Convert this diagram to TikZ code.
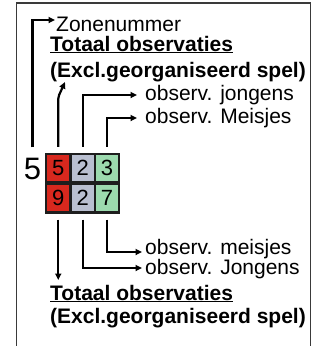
\documentclass[tikz,border=0pt]{standalone}
\usepackage{fontspec}
\setmainfont{Liberation Sans}
\usetikzlibrary{arrows.meta,calc}
\definecolor{cred}{HTML}{D8281E}
\definecolor{cgray}{HTML}{B9BFD0}
\definecolor{cgreen}{HTML}{9CDAAE}
\definecolor{framec}{HTML}{3A3A3A}
\definecolor{cellline}{HTML}{1E1E1E}
\begin{document}
\begin{tikzpicture}[x=1pt,y=-1pt,
  cell/.style={draw=cellline, line width=2.2pt, minimum width=24.5pt, minimum height=28.5pt,
    inner sep=0pt, font=\fontsize{22}{22}\selectfont},
  lbl/.style={anchor=base west, inner sep=0pt, font=\fontsize{21}{24}\selectfont},
  blbl/.style={lbl, font=\fontsize{21}{24}\selectfont\bfseries},
  arr/.style={line width=2.2pt, -{Triangle[length=6.5pt,width=6pt]}}]
\useasboundingbox (0,0) rectangle (332,346);
\draw[framec, line width=1.2pt] (16.5,346) -- (16.5,3) -- (310.5,3) -- (310.5,346);
% cells
\node[cell, fill=cred]   (c11) at (58.25,168.25) {5};
\node[cell, fill=cgray]  (c12) at (82.75,168.25) {2};
\node[cell, fill=cgreen] (c13) at (107,168.25) {3};
\node[cell, fill=cred]   (c21) at (58.25,198.25) {9};
\node[cell, fill=cgray]  (c22) at (82.75,198.25) {2};
\node[cell, fill=cgreen] (c23) at (107,198.25) {7};
\node[anchor=base, inner sep=0pt, font=\fontsize{31}{31}\selectfont] (big5) at (32.5,179) {5};
% labels
\node[lbl] (zon) at (56,31) {Zonenummer};
\node[blbl] (tot1) at (50,51) {\underline{Totaal observaties}};
\node[blbl] (exc1) at (50,77) {(Excl.georganiseerd spel)};
\node[lbl] (jon1) at (145,100) {observ. jongens};
\node[lbl] (mei1) at (145,123) {observ. Meisjes};
\node[lbl] (mei2) at (145,254) {observ. meisjes};
\node[lbl] (jon2) at (145,274) {observ. Jongens};
\node[blbl] (tot2) at (50,300) {\underline{Totaal observaties}};
\node[blbl] (exc2) at (50,323) {(Excl.georganiseerd spel)};
% arrow ends
\coordinate (t1) at (55,20);
\coordinate (t2) at (65,82);
\coordinate (t3) at (137,95);
\coordinate (t4) at (137,118);
\coordinate (t5) at (58.25,280);
\coordinate (t6) at (142,268);
\coordinate (t7) at (142,252);
% connectors
\draw[arr] ([yshift=10pt]big5.north) |- (t1);
\draw[arr, rounded corners=2pt] ([yshift=6pt]c11.north) -- ++(0,-50) -- (t2);
\draw[arr] ([yshift=6pt]c12.north) |- (t3);
\draw[arr] ([yshift=6pt]c13.north) |- (t4);
\draw[arr] ([yshift=-6pt]c21.south) -- (t5);
\draw[arr] ([yshift=-6pt]c22.south) |- (t6);
\draw[arr] ([yshift=-6pt]c23.south) |- (t7);
\end{tikzpicture}
\end{document}
